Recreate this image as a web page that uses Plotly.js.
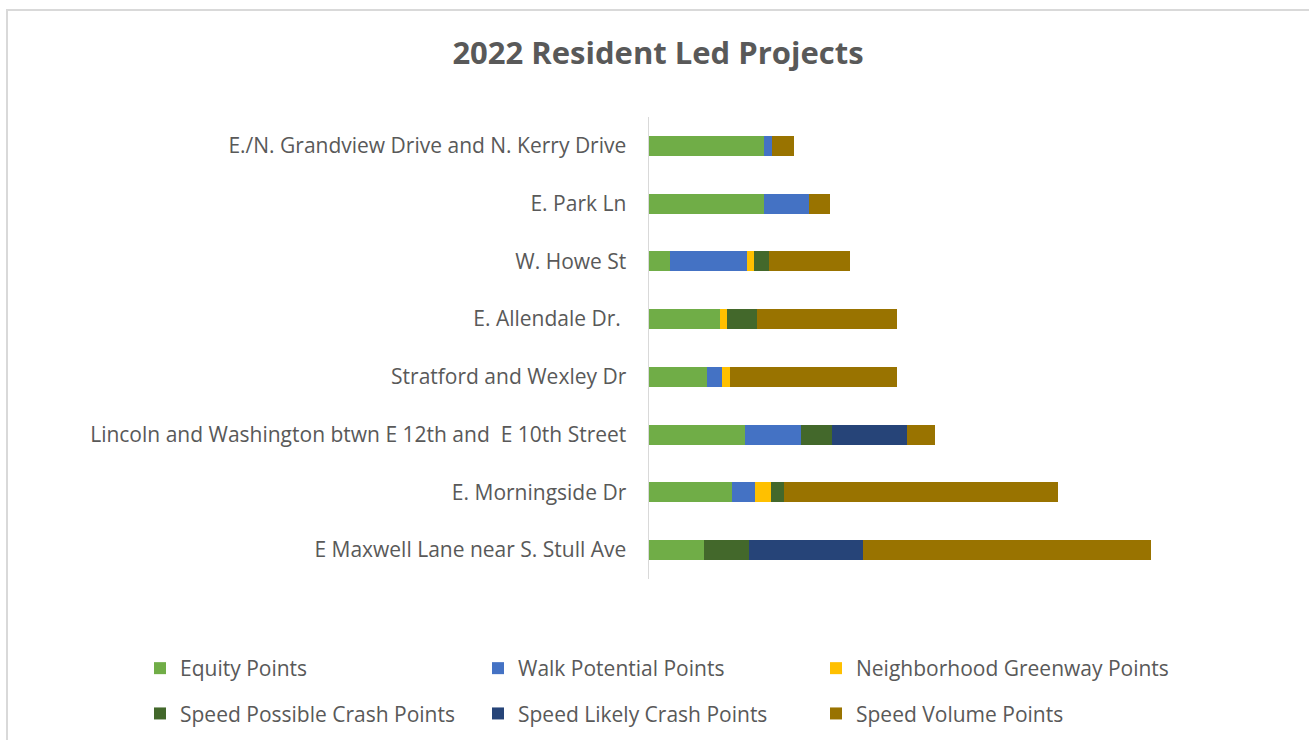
<!DOCTYPE html>
<html><head><meta charset="utf-8">
<script src="https://cdn.plot.ly/plotly-3.0.1.min.js"></script>
<style>html,body{margin:0;padding:0;background:#fff}</style>
</head><body><div id="chart" style="width:1309px;height:740px"></div>
<script>
const projects = [
  "E./N. Grandview Drive and N. Kerry Drive",
  "E. Park Ln",
  "W. Howe St",
  "E. Allendale Dr. ",
  "Stratford and Wexley Dr",
  "Lincoln and Washington btwn E 12th and \u00a0E 10th Street",
  "E. Morningside Dr",
  "E Maxwell Lane near S. Stull Ave"
];
const equityPoints      = [15.0, 15.0, 2.7, 9.2, 7.5, 12.5, 10.8, 7.2];
const walkPoints        = [1.0, 5.8, 10.0, 0, 2.0, 7.3, 3.0, 0];
const greenwayPoints    = [0, 0, 1.0, 1.0, 1.0, 0, 2.0, 0];
const possibleCrash     = [0, 0, 1.9, 3.8, 0, 4.0, 1.8, 5.8];
const likelyCrash       = [0, 0, 0, 0, 0, 9.8, 0, 14.8];
const volumePoints      = [2.9, 2.7, 10.5, 18.3, 21.8, 3.6, 35.6, 37.5];

const seriesNames = ["Equity Points","Walk Potential Points","Neighborhood Greenway Points",
  "Speed Possible Crash Points","Speed Likely Crash Points","Speed Volume Points"];
const seriesValues = [equityPoints, walkPoints, greenwayPoints, possibleCrash, likelyCrash, volumePoints];
const colors = ["#70ad47","#4472c4","#ffc000","#43682b","#264478","#997300"];
const legendIds = ["legend","legend2","legend3","legend","legend2","legend3"];

const traces = seriesNames.map((n,i)=>({
  type:'bar', orientation:'h', name:n, y:projects, x:seriesValues[i],
  legend:legendIds[i], legendgroup:'g'+i,
  marker:{color:colors[i], line:{width:0}}, hoverinfo:'x+name'
}));

const L=649, R=60, T=117, B=161, W=1309, H=740;
const pw=W-L-R, ph=H-T-B;
const px = p => (p-L)/pw, py = p => (H-B-p)/ph;

const legendBase = x => ({orientation:'v', xref:'paper', yref:'container', x:px(x), xanchor:'left',
    y:1-648/H, yanchor:'top', traceorder:'grouped', tracegroupgap:15,
    font:{size:21, color:'#595959', family:'Open Sans, sans-serif'}, itemwidth:30, bgcolor:'rgba(0,0,0,0)'});

const layout = {
  width:W, height:H, barmode:'stack', bargap:0.65,
  margin:{l:L, r:R, t:T, b:B, autoexpand:false},
  paper_bgcolor:'#fff', plot_bgcolor:'#fff',
  font:{family:'Open Sans, sans-serif', color:'#595959', size:21},
  title:{text:'<b>2022 Resident Led Projects</b>', font:{size:31, color:'#595959', family:'Open Sans, sans-serif'},
    x:658/W, xref:'container', xanchor:'center', y:1-53/H, yref:'container', yanchor:'middle'},
  xaxis:{range:[0,78], visible:false, showgrid:false, zeroline:false, fixedrange:true},
  yaxis:{autorange:'reversed', showline:true, linecolor:'#d9d9d9', linewidth:1.5, ticks:'',
    ticklabelstandoff:17, showgrid:false, tickfont:{size:21, color:'#595959'}, fixedrange:true},
  legend:legendBase(140),
  legend2:legendBase(478),
  legend3:legendBase(816),
  shapes:[{type:'rect', xref:'paper', yref:'paper', x0:px(7), x1:px(1320), y0:py(10), y1:py(760),
    line:{color:'#d9d9d9', width:2}, fillcolor:'rgba(0,0,0,0)', layer:'below'}],
  showlegend:true
};
Plotly.newPlot('chart', traces, layout, {displayModeBar:false, staticPlot:true});
</script></body></html>
